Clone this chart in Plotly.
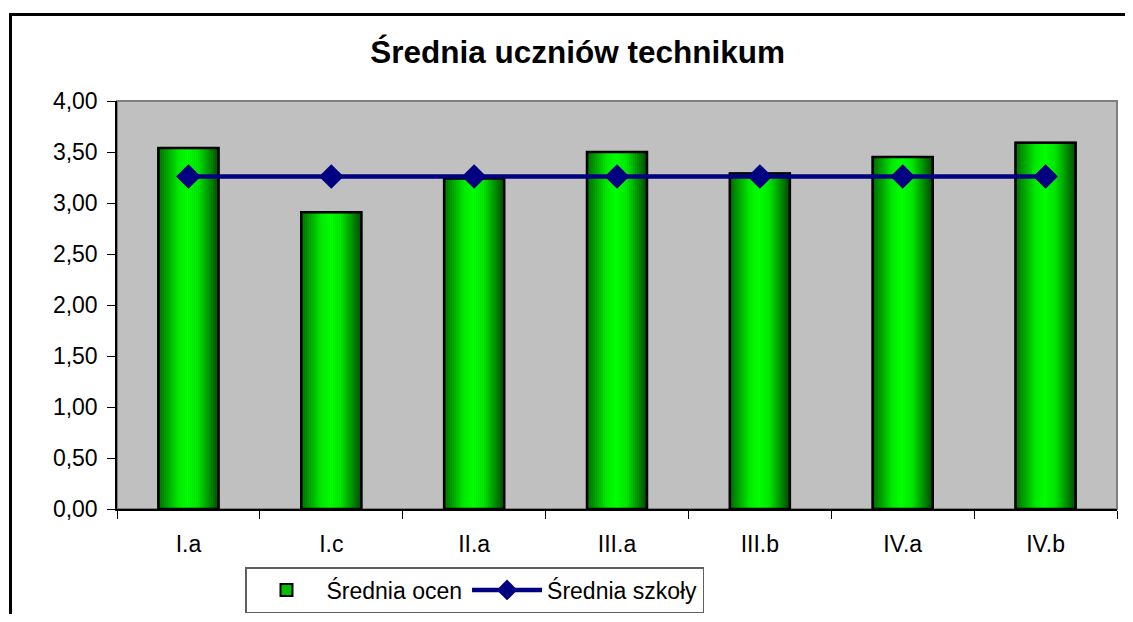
import plotly.graph_objects as go

categories = ["I.a", "I.c", "II.a", "III.a", "III.b", "IV.a", "IV.b"]
srednia_ocen = [3.54, 2.91, 3.24, 3.50, 3.29, 3.45, 3.59]
srednia_szkoly = [3.26, 3.26, 3.26, 3.26, 3.26, 3.26, 3.26]
y_ticks = [0, 0.5, 1.0, 1.5, 2.0, 2.5, 3.0, 3.5, 4.0]

FONT = "Liberation Sans, Arial, sans-serif"
BAR_W = 0.42
N_SLICES = 30

# gradient stops (t, (r,g,b))
stops = [(0.0, (0, 105, 0)), (0.33, (0, 235, 0)), (0.48, (0, 255, 0)),
         (0.66, (0, 230, 0)), (1.0, (0, 70, 0))]


def grad(t):
    for (t0, c0), (t1, c1) in zip(stops[:-1], stops[1:]):
        if t0 <= t <= t1:
            f = (t - t0) / (t1 - t0)
            return "rgb(%d,%d,%d)" % tuple(round(a + (b - a) * f) for a, b in zip(c0, c1))
    return "rgb(0,70,0)"


fig = go.Figure()

# base bar (legend entry)
fig.add_trace(go.Bar(
    x=categories, y=srednia_ocen, name="Średnia ocen", width=BAR_W,
    marker=dict(color="#00c000", line=dict(color="black", width=2)),
    hoverinfo="skip",
))

# gradient slices
sw = BAR_W / N_SLICES
for i in range(N_SLICES):
    t = (i + 0.5) / N_SLICES
    fig.add_trace(go.Bar(
        x=categories, y=srednia_ocen, width=sw * 1.15,
        offset=-BAR_W / 2 + i * sw,
        marker=dict(color=grad(t), line=dict(width=0)),
        showlegend=False, hoverinfo="skip",
    ))

# outline
fig.add_trace(go.Bar(
    x=categories, y=srednia_ocen, width=BAR_W,
    marker=dict(color="rgba(0,0,0,0)", line=dict(color="black", width=2.5)),
    showlegend=False, hoverinfo="skip",
))

fig.add_trace(go.Scatter(
    x=categories, y=srednia_szkoly, name="Średnia szkoły",
    mode="lines+markers",
    line=dict(color="#000080", width=4.5),
    marker=dict(symbol="diamond", size=19, color="#000080", line=dict(width=0)),
))

fig.update_layout(
    width=1117, height=606,
    margin=dict(l=109, r=8, t=93, b=105, autoexpand=False),
    paper_bgcolor="white", plot_bgcolor="#c0c0c0",
    barmode="overlay",
    separators=", ",
    font=dict(family=FONT, size=23, color="black"),
    title=dict(text="Średnia uczniów technikum", xref="container", x=0.51,
               xanchor="center", y=0.927, yanchor="middle",
               font=dict(family=FONT, size=31.5, weight="bold", color="black")),
    xaxis=dict(type="category", tickson="boundaries", ticks="outside", ticklen=8,
               tickcolor="black", tickwidth=1, showline=True, linecolor="black",
               linewidth=1.5, showgrid=False, ticklabelstandoff=14,
               tickfont=dict(size=23), range=[-0.5, 6.5]),
    yaxis=dict(range=[0, 4], tickvals=y_ticks, tickformat=".2f", ticks="outside",
               ticklen=8, tickcolor="black", tickwidth=1, showline=True,
               linecolor="black", linewidth=1.5, showgrid=False, zeroline=False,
               ticklabelstandoff=5, tickfont=dict(size=23)),
    legend=dict(orientation="h", x=0.128, xanchor="left", y=-0.1422, yanchor="top",
                bgcolor="white", bordercolor="#606060", borderwidth=1.5,
                font=dict(family=FONT, size=23), itemwidth=70,
                traceorder="normal"),
    shapes=[
        dict(type="rect", xref="x domain", yref="y domain", x0=0, x1=1, y0=0, y1=1,
             line=dict(color="#808080", width=2), layer="below"),
        dict(type="rect", xref="paper", yref="paper", x0=-0.1065, x1=1.05,
             y0=-0.4, y1=1.212, line=dict(color="black", width=3), layer="below"),
    ],
    showlegend=True,
)

fig.write_html("out.html")
